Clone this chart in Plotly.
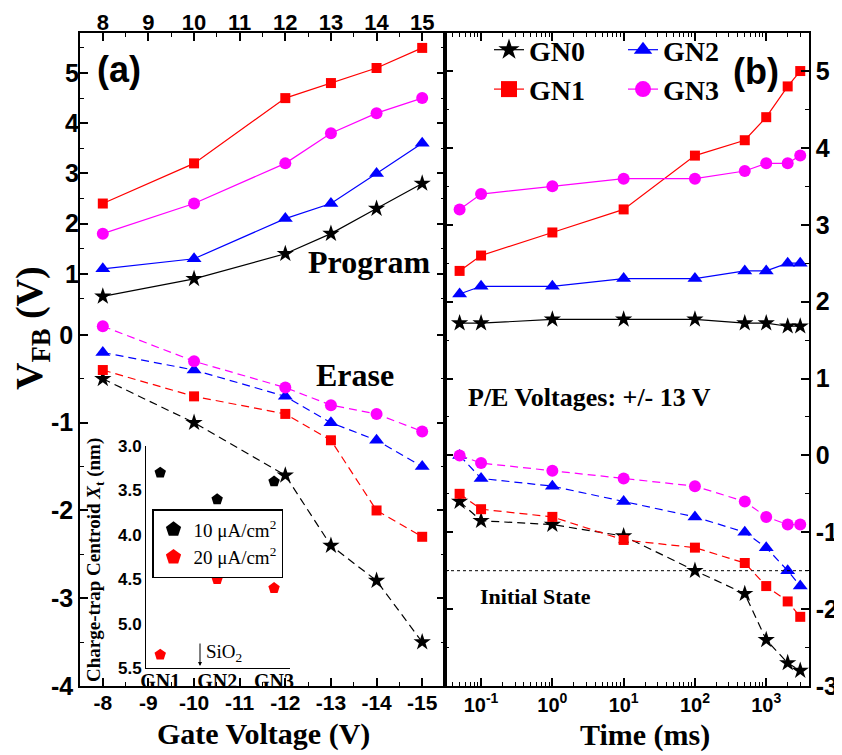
import plotly.graph_objects as go

# ---------------- data ----------------
gate_v = [8, 10, 12, 13, 14, 15]
gate_ticks = [8, 9, 10, 11, 12, 13, 14, 15]
gate_labels_bottom = ["-8", "-9", "-10", "-11", "-12", "-13", "-14", "-15"]
gate_labels_top = ["8", "9", "10", "11", "12", "13", "14", "15"]

prog_gn0 = [0.55, 0.9, 1.4, 1.8, 2.3, 2.8]
prog_gn1 = [2.4, 3.2, 4.5, 4.8, 5.1, 5.5]
prog_gn2 = [1.1, 1.3, 2.1, 2.4, 3.0, 3.6]
prog_gn3 = [1.8, 2.4, 3.2, 3.8, 4.2, 4.5]
erase_gn0 = [-0.5, -1.0, -1.6, -2.4, -2.8, -3.5]
erase_gn1 = [-0.4, -0.7, -0.9, -1.2, -2.0, -2.3]
erase_gn2 = [-0.2, -0.4, -0.7, -1.0, -1.2, -1.5]
erase_gn3 = [0.1, -0.3, -0.6, -0.8, -0.9, -1.1]

time_ms = [0.05, 0.1, 1, 10, 100, 500, 1000, 2000, 3000]
t_prog_gn0 = [1.72, 1.72, 1.77, 1.77, 1.77, 1.72, 1.72, 1.68, 1.68]
t_prog_gn1 = [2.4, 2.6, 2.9, 3.2, 3.9, 4.1, 4.4, 4.8, 5.0]
t_prog_gn2 = [2.1, 2.2, 2.2, 2.3, 2.3, 2.4, 2.4, 2.5, 2.5]
t_prog_gn3 = [3.2, 3.4, 3.5, 3.6, 3.6, 3.7, 3.8, 3.8, 3.9]
t_erase_gn0 = [-0.6, -0.85, -0.9, -1.05, -1.5, -1.8, -2.4, -2.7, -2.8]
t_erase_gn1 = [-0.5, -0.7, -0.8, -1.1, -1.2, -1.4, -1.7, -1.9, -2.1]
t_erase_gn2 = [0.0, -0.3, -0.4, -0.6, -0.8, -1.0, -1.2, -1.5, -1.7]
t_erase_gn3 = [0.0, -0.1, -0.2, -0.3, -0.4, -0.6, -0.8, -0.9, -0.9]
initial_state = -1.5

time_ticks = [0.1, 1, 10, 100, 1000]
time_labels = ["10<sup>-1</sup>", "10<sup>0</sup>", "10<sup>1</sup>", "10<sup>2</sup>", "10<sup>3</sup>"]

inset_x = [1, 2, 3]
inset_labels = ["GN1", "GN2", "GN3"]
centroid_10 = [3.3, 3.6, 3.4]
centroid_20 = [5.35, 4.5, 4.6]
inset_ticks = [3.0, 3.5, 4.0, 4.5, 5.0, 5.5]

# ---------------- helpers ----------------
# the page body has an 8px margin, so the figure is drawn 8px in from the window edge
OX, OY = 8, 8
W, H = 834, 747
def px(x):
    return (x - OX) / W
def py(y):
    return 1 - (y - OY) / H

SERIF = "Liberation Serif"
SANS = "Liberation Sans"
RED, BLUE, MAG, BLK = "#FF0000", "#0000FF", "#FF00FF", "#000000"
DASH = "8px,5px"

series_style = {
    "GN0": dict(color=BLK, symbol="star", size=13),
    "GN1": dict(color=RED, symbol="square", size=10),
    "GN2": dict(color=BLUE, symbol="triangle-up", size=13),
    "GN3": dict(color=MAG, symbol="circle", size=12),
}

fig = go.Figure()

def add_line(x, y, name, xa, ya, dash):
    st = series_style[name]
    fig.add_trace(go.Scatter(
        x=x, y=y, mode="lines+markers", name=name, showlegend=False,
        xaxis=xa, yaxis=ya,
        line=dict(color=st["color"], width=1.2, dash=dash),
        marker=dict(color=st["color"], symbol=st["symbol"], size=st["size"]),
    ))

# panel (a)
for nm, yy in [("GN0", prog_gn0), ("GN1", prog_gn1), ("GN2", prog_gn2), ("GN3", prog_gn3)]:
    add_line(gate_v, yy, nm, "x", "y2", "solid")
for nm, yy in [("GN0", erase_gn0), ("GN1", erase_gn1), ("GN2", erase_gn2), ("GN3", erase_gn3)]:
    add_line(gate_v, yy, nm, "x", "y", DASH)
# invisible trace so that the top axis of panel (a) is drawn
fig.add_trace(go.Scatter(x=[None], y=[None], xaxis="x3", yaxis="y", showlegend=False,
                         hoverinfo="skip"))
# panel (b)
for nm, yy in [("GN0", t_prog_gn0), ("GN1", t_prog_gn1), ("GN2", t_prog_gn2), ("GN3", t_prog_gn3)]:
    add_line(time_ms, yy, nm, "x2", "y3", "solid")
for nm, yy in [("GN0", t_erase_gn0), ("GN1", t_erase_gn1), ("GN2", t_erase_gn2), ("GN3", t_erase_gn3)]:
    add_line(time_ms, yy, nm, "x2", "y3", DASH)

# legend-only entries for panel (b)
leg_sizes = {"GN0": 20, "GN1": 18, "GN2": 22, "GN3": 20}
for nm, lg in [("GN0", "legend"), ("GN1", "legend"), ("GN2", "legend3"), ("GN3", "legend3")]:
    st = series_style[nm]
    fig.add_trace(go.Scatter(
        x=[None], y=[None], mode="lines+markers", name=nm, legend=lg,
        xaxis="x2", yaxis="y3",
        line=dict(color=st["color"], width=1.2),
        marker=dict(color=st["color"], symbol=st["symbol"], size=leg_sizes[nm]),
    ))

# inset
fig.add_trace(go.Scatter(x=inset_x, y=centroid_10, mode="markers", showlegend=False,
                         xaxis="x4", yaxis="y4",
                         marker=dict(symbol="pentagon", color=BLK, size=12)))
fig.add_trace(go.Scatter(x=inset_x, y=centroid_20, mode="markers", showlegend=False,
                         xaxis="x4", yaxis="y4",
                         marker=dict(symbol="pentagon", color=RED, size=12)))
fig.add_trace(go.Scatter(x=[None], y=[None], mode="markers", name="10 μA/cm<sup>2</sup>",
                         legend="legend2", xaxis="x4", yaxis="y4",
                         marker=dict(symbol="pentagon", color=BLK, size=22)))
fig.add_trace(go.Scatter(x=[None], y=[None], mode="markers", name="20 μA/cm<sup>2</sup>",
                         legend="legend2", xaxis="x4", yaxis="y4",
                         marker=dict(symbol="pentagon", color=RED, size=22)))

# ---------------- axes ----------------
yfont = dict(family=SANS, size=25, color="black", weight="bold")
xfont = dict(family=SANS, size=21, color="black", weight="bold")
logfont = dict(family=SANS, size=20, color="black", weight="bold")
common = dict(showgrid=False, zeroline=False, linecolor="black", linewidth=1.5,
              ticks="inside", ticklen=8, tickwidth=1.5, tickcolor="black", automargin=False)
minor_style = dict(ticks="inside", ticklen=4, tickcolor="black", tickwidth=1.2)
dom_x_a = [px(80), px(445)]
dom_x_b = [px(445), px(809)]
dom_y = [py(686), py(33)]

fig.update_layout(
    xaxis=dict(domain=dom_x_a, range=[7.5, 15.5], anchor="y", tickmode="array",
               tickvals=gate_ticks, ticktext=gate_labels_bottom, showline=True, mirror=False,
               tickfont=xfont, ticklabelstandoff=-3,
               minor=dict(tickmode="array", tickvals=[8.5, 9.5, 10.5, 11.5, 12.5, 13.5, 14.5],
                          **minor_style),
               **common),
    xaxis3=dict(overlaying="x", side="top", range=[7.5, 15.5], anchor="y", tickmode="array",
                tickvals=gate_ticks, ticktext=gate_labels_top, showline=True,
                tickfont=dict(family=SANS, size=22, color="black", weight="bold"),
                ticklabelstandoff=-8,
                minor=dict(tickmode="array", tickvals=[8.5, 9.5, 10.5, 11.5, 12.5, 13.5, 14.5],
                           **minor_style),
                **common),
    yaxis=dict(domain=dom_y, range=[-4, 3.44], anchor="x", tickmode="array",
               tickvals=[0, -1, -2, -3, -4], ticktext=["0", "-1", "-2", "-3", "-4"],
               showline=True, mirror="ticks", tickfont=yfont,
               minor=dict(tickmode="array", tickvals=[-0.5, -1.5, -2.5, -3.5], **minor_style),
               **common),
    yaxis2=dict(overlaying="y", side="left", range=[-7.211, 5.797], anchor="x", tickmode="array",
                tickvals=[1, 2, 3, 4, 5], ticktext=["1", "2", "3", "4", "5"],
                showline=False, mirror="ticks", tickfont=yfont,
                minor=dict(tickmode="array", tickvals=[0.5, 1.5, 2.5, 3.5, 4.5, 5.5],
                           **minor_style),
                **common),
    xaxis2=dict(domain=dom_x_b, type="log", range=[-1.506, 3.60], anchor="y3", tickmode="array",
                tickvals=time_ticks, ticktext=time_labels, showline=True, mirror="allticks",
                tickfont=logfont, ticklabelstandoff=0,
                minor=dict(tickmode="array",
                           tickvals=[k * 10 ** e for e in range(-2, 4) for k in range(2, 10)],
                           **minor_style),
                **common),
    yaxis3=dict(domain=dom_y, range=[-3, 5.495], anchor="x2", side="right", tickmode="array",
                tickvals=[-3, -2, -1, 0, 1, 2, 3, 4, 5],
                ticktext=["-3", "-2", "-1", "0", "1", "2", "3", "4", "5"],
                showline=True, mirror="ticks", tickfont=yfont,
                minor=dict(tickmode="array", tickvals=[-2.5, -1.5, -0.5, 0.5, 1.5, 2.5, 3.5, 4.5],
                           **minor_style),
                **common),
    xaxis4=dict(domain=[px(146), px(290)], range=[0.75, 3.28], anchor="y4", tickmode="array",
                tickvals=inset_x, ticktext=inset_labels, showline=True, linecolor="black",
                linewidth=1, showgrid=False, zeroline=False, ticks="", automargin=False,
                ticklabelstandoff=-5,
                tickfont=dict(family=SERIF, size=20, color="black", weight="bold")),
    yaxis4=dict(domain=[py(668), py(446)], range=[5.5, 3.0], anchor="x4", tickmode="array",
                tickvals=inset_ticks, ticktext=["3.0", "3.5", "4.0", "4.5", "5.0", "5.5"],
                showline=True, linecolor="black", linewidth=1, showgrid=False, zeroline=False,
                ticks="", automargin=False,
                tickfont=dict(family=SANS, size=17, color="black", weight="bold")),
)

# ---------------- legends ----------------
leg_font = dict(family=SERIF, size=28, color="black", weight="bold")
fig.update_layout(
    legend=dict(x=px(489), y=py(25), xanchor="left", yanchor="top", font=leg_font,
                bgcolor="rgba(0,0,0,0)", tracegroupgap=0),
    legend3=dict(x=px(623), y=py(25), xanchor="left", yanchor="top", font=leg_font,
                 bgcolor="rgba(0,0,0,0)", tracegroupgap=0),
    legend2=dict(x=px(152), y=py(509), xanchor="left", yanchor="top",
                 font=dict(family=SERIF, size=19, color="black"),
                 bgcolor="white", bordercolor="black", borderwidth=1.5),
)

# ---------------- annotations ----------------
ann = []
def txt(x, y, text, size, family=SERIF, angle=0, xanchor="center", weight="bold"):
    ann.append(dict(x=px(x), y=py(y), xref="paper", yref="paper", text=text, showarrow=False,
                    xanchor=xanchor, yanchor="middle", textangle=angle,
                    font=dict(family=family, size=size, color="black", weight=weight)))

txt(32, 328, "V<sub>FB</sub> (V)", 38, angle=-90)
txt(263, 734, "Gate Voltage (V)", 30)
txt(645, 735, "Time (ms)", 30)
txt(119, 69, "(a)", 36, family=SANS)
txt(756, 72, "(b)", 36, family=SANS)
txt(369, 262, "Program", 32)
txt(355, 375, "Erase", 32)
txt(589, 397, "P/E Voltages: +/- 13 V", 26)
txt(535, 596, "Initial State", 22)
txt(95, 560, "Charge-trap Centroid <i>X</i><sub>t</sub> (nm)", 19, angle=-90)
txt(204, 653, "SiO<sub>2</sub>", 19, xanchor="left", weight="normal")
ann.append(dict(x=px(200), y=py(666), xref="paper", yref="paper", text="", showarrow=True,
                ax=0, ay=-24, arrowhead=2, arrowsize=0.8, arrowwidth=1, arrowcolor="black"))
fig.update_layout(annotations=ann)

fig.add_shape(type="line", xref="x2 domain", yref="y3", x0=0, x1=1,
              y0=initial_state, y1=initial_state,
              line=dict(color="black", width=1, dash="3px,3px"))

fig.update_layout(width=W, height=H, margin=dict(l=0, r=0, t=0, b=0, autoexpand=False),
                  paper_bgcolor="white", plot_bgcolor="rgba(0,0,0,0)", showlegend=True)

fig.write_html("out.html")
